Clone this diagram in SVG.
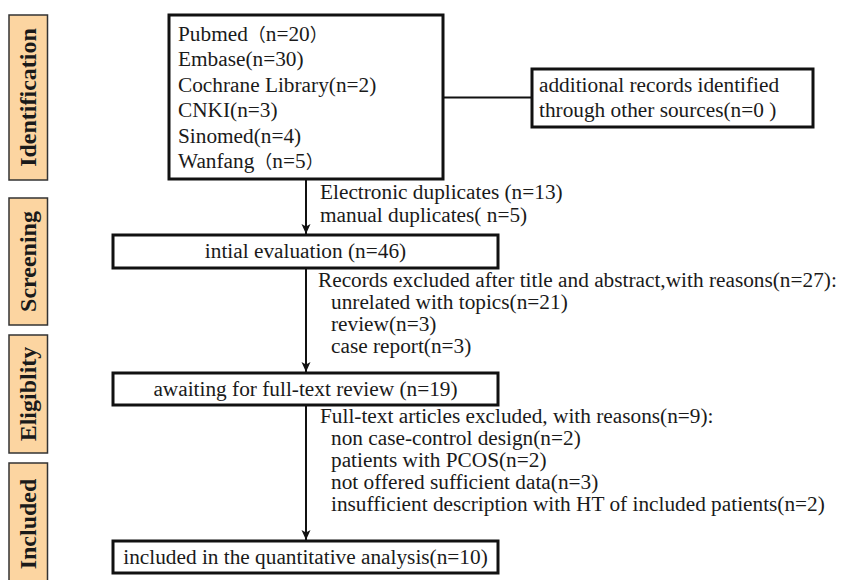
<svg xmlns="http://www.w3.org/2000/svg" width="841" height="580" viewBox="0 0 841 580">
<style>
  text { font-family: "Liberation Serif", serif; }
  .t { font-size: 21.3px; fill: #1a1a1a; }
  .cjk { font-family: "Noto Sans CJK SC", sans-serif; font-size: 18px; }
  .side rect { fill: #FCD5A1; stroke: #333; stroke-width: 1.5; }
  .side text { font-size: 24px; font-weight: bold; fill: #1a1a1a; text-anchor: middle; }
  .box { fill: #fff; stroke: #111; stroke-width: 3; }
  .conn { stroke: #111; stroke-width: 2; fill: none; }
  .mid { text-anchor: middle; }
</style>
<defs>
  <marker id="arr" viewBox="0 0 10 10" refX="10" refY="5" markerWidth="10" markerHeight="10" markerUnits="userSpaceOnUse" orient="auto">
    <path d="M0,0.5 L10,5 L0,9.5 L2.5,5 z" fill="#111"/>
  </marker>
</defs>
<rect width="841" height="580" fill="#fff"/>

<g id="stage-identification" class="side">
  <rect x="9" y="15" width="38.5" height="165"/>
  <text transform="translate(36,97.5) rotate(-90)">Identification</text>
</g>
<g id="stage-screening" class="side">
  <rect x="9" y="198" width="38.5" height="127"/>
  <text transform="translate(36,261.5) rotate(-90)">Screening</text>
</g>
<g id="stage-eligibility" class="side">
  <rect x="9" y="335" width="38.5" height="118"/>
  <text transform="translate(36,394) rotate(-90)">Eligiblity</text>
</g>
<g id="stage-included" class="side">
  <rect x="9" y="463" width="38.5" height="125"/>
  <text transform="translate(36,524) rotate(-90)">Included</text>
</g>

<g id="connectors">
  <line class="conn" x1="443" y1="97.5" x2="532" y2="97.5"/>
  <line class="conn" x1="306" y1="179" x2="306" y2="234" marker-end="url(#arr)"/>
  <line class="conn" x1="306" y1="268" x2="306" y2="372" marker-end="url(#arr)"/>
  <line class="conn" x1="306" y1="405" x2="306" y2="540" marker-end="url(#arr)"/>
</g>

<g id="databases">
  <rect class="box" x="169" y="15" width="274" height="164"/>
  <text class="t" x="178" y="40.5">Pubmed<tspan class="cjk">（</tspan>n=20<tspan class="cjk">）</tspan></text>
  <text class="t" x="178" y="66">Embase(n=30)</text>
  <text class="t" x="178" y="91.5">Cochrane Library(n=2)</text>
  <text class="t" x="178" y="117">CNKI(n=3)</text>
  <text class="t" x="178" y="142.5">Sinomed(n=4)</text>
  <text class="t" x="178" y="168">Wanfang<tspan class="cjk">（</tspan>n=5<tspan class="cjk">）</tspan></text>
</g>

<g id="additional">
  <rect class="box" x="532" y="69" width="281" height="58"/>
  <text class="t" x="539" y="92">additional records identified</text>
  <text class="t" x="539" y="117">through other sources(n=0 )</text>
</g>

<g id="duplicates-note">
  <text class="t" x="320" y="199">Electronic duplicates (n=13)</text>
  <text class="t" x="320" y="222">manual duplicates( n=5)</text>
</g>

<g id="initial-evaluation">
  <rect class="box" x="113" y="235" width="385" height="33"/>
  <text class="t mid" x="305.5" y="258">intial evaluation (n=46)</text>
</g>

<g id="screen-exclusions">
  <text class="t" x="318" y="287">Records excluded after title and abstract,with reasons(n=27):</text>
  <text class="t" x="331" y="309">unrelated with topics(n=21)</text>
  <text class="t" x="331" y="331">review(n=3)</text>
  <text class="t" x="331" y="353">case report(n=3)</text>
</g>

<g id="full-text-review">
  <rect class="box" x="113" y="373" width="385" height="32"/>
  <text class="t mid" x="305.5" y="396">awaiting for full-text review (n=19)</text>
</g>

<g id="full-text-exclusions">
  <text class="t" x="320" y="423">Full-text articles excluded, with reasons(n=9):</text>
  <text class="t" x="331" y="445">non case-control design(n=2)</text>
  <text class="t" x="331" y="467">patients with PCOS(n=2)</text>
  <text class="t" x="331" y="489">not offered sufficient data(n=3)</text>
  <text class="t" x="331" y="511">insufficient description with HT of included patients(n=2)</text>
</g>

<g id="included">
  <rect class="box" x="113" y="541" width="385" height="32"/>
  <text class="t mid" x="305.5" y="564">included in the quantitative analysis(n=10)</text>
</g>
</svg>
